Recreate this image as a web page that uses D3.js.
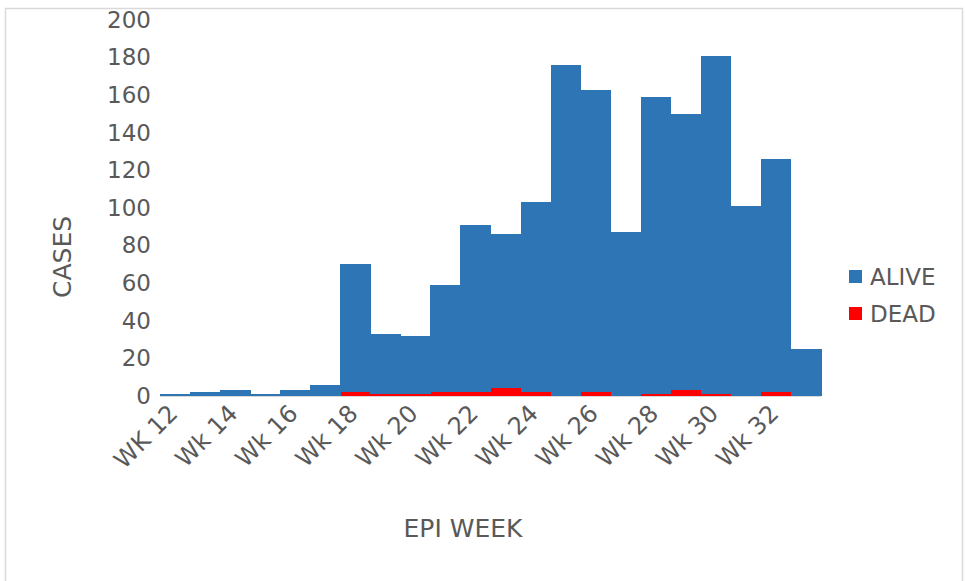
<!DOCTYPE html>
<html><head><meta charset="utf-8">
<script src="https://cdn.jsdelivr.net/npm/d3@7"></script>
<style>body{margin:0;background:#fff;} text{font-family:"DejaVu Sans",sans-serif;fill:#595959;}</style>
</head><body><svg id="c" width="965" height="581"></svg>
<script>
const weeks = ["WK 12","Wk 13","Wk 14","Wk 15","Wk 16","Wk 17","Wk 18","Wk 19","Wk 20","Wk 21","Wk 22","Wk 23","Wk 24","Wk 25","Wk 26","Wk 27","Wk 28","Wk 29","Wk 30","Wk 31","Wk 32","Wk 33"];
const alive = [1,2,3,1,3,6,68,32,31,57,89,82,101,176,161,87,158,147,180,101,124,25];
const dead  = [0,0,0,0,0,0,2,1,1,2,2,4,2,0,2,0,1,3,1,0,2,0];
const yTicks = [0,20,40,60,80,100,120,140,160,180,200];
const shownLabels = ["WK 12","Wk 14","Wk 16","Wk 18","Wk 20","Wk 22","Wk 24","Wk 26","Wk 28","Wk 30","Wk 32"];

const svg = d3.select("#c");
svg.append("rect").attr("x",5.5).attr("y",8.5).attr("width",957).attr("height",580)
  .attr("fill","#fff").attr("stroke","#d9d9d9").attr("stroke-width",1.5);

const x = d3.scaleBand().domain(weeks).range([160,821]).padding(0);
const y = d3.scaleLinear().domain([0,200]).range([396,20]);

const data = weeks.map((w,i)=>({week:w, DEAD:dead[i], ALIVE:alive[i]}));
const stack = d3.stack().keys(["DEAD","ALIVE"])(data);
const colors = {DEAD:"#FF0000", ALIVE:"#2E75B6"};

svg.append("g").attr("shape-rendering","crispEdges").selectAll("g").data(stack).join("g").attr("fill",d=>colors[d.key])
  .selectAll("rect").data(d=>d).join("rect")
  .attr("x",d=>x(d.data.week)).attr("width",x.bandwidth()+0.5)
  .attr("y",d=>y(d[1])).attr("height",d=>y(d[0])-y(d[1]));

// axis line
svg.append("line").attr("x1",160).attr("x2",821).attr("y1",396.5).attr("y2",396.5)
  .attr("stroke","#d9d9d9").attr("stroke-width",1);

// y axis labels
const yAxis = d3.axisLeft(y).tickValues(yTicks).tickSize(0).tickPadding(0);
const gy = svg.append("g").attr("transform","translate(151,0)").call(yAxis);
gy.select(".domain").remove();
gy.selectAll("text").attr("font-size",23).style("fill","#595959").attr("font-family","DejaVu Sans");

// x axis labels
const xAxis = d3.axisBottom(x).tickValues(shownLabels).tickSize(0).tickPadding(0);
const gx = svg.append("g").attr("transform","translate(0,396)").call(xAxis);
gx.select(".domain").remove();
gx.selectAll("text").attr("font-size",24).style("fill","#595959").attr("font-family","DejaVu Sans")
  .attr("text-anchor","end").attr("dy",0)
  .attr("transform","translate(4,19) rotate(-45)");

// axis titles
svg.append("text").attr("x",463).attr("y",537).attr("text-anchor","middle").attr("font-size",25).text("EPI WEEK");
svg.append("text").attr("transform","translate(71,257) rotate(-90)").attr("text-anchor","middle").attr("font-size",25).text("CASES");

// legend
const legend = [{k:"ALIVE",y:277},{k:"DEAD",y:314}];
const lg = svg.append("g").selectAll("g").data(legend).join("g");
lg.append("rect").attr("x",849).attr("y",d=>d.y-7).attr("width",13).attr("height",13).attr("fill",d=>colors[d.k]);
lg.append("text").attr("x",870).attr("y",d=>d.y).attr("dy","0.36em").attr("font-size",23).text(d=>d.k);
</script></body></html>
